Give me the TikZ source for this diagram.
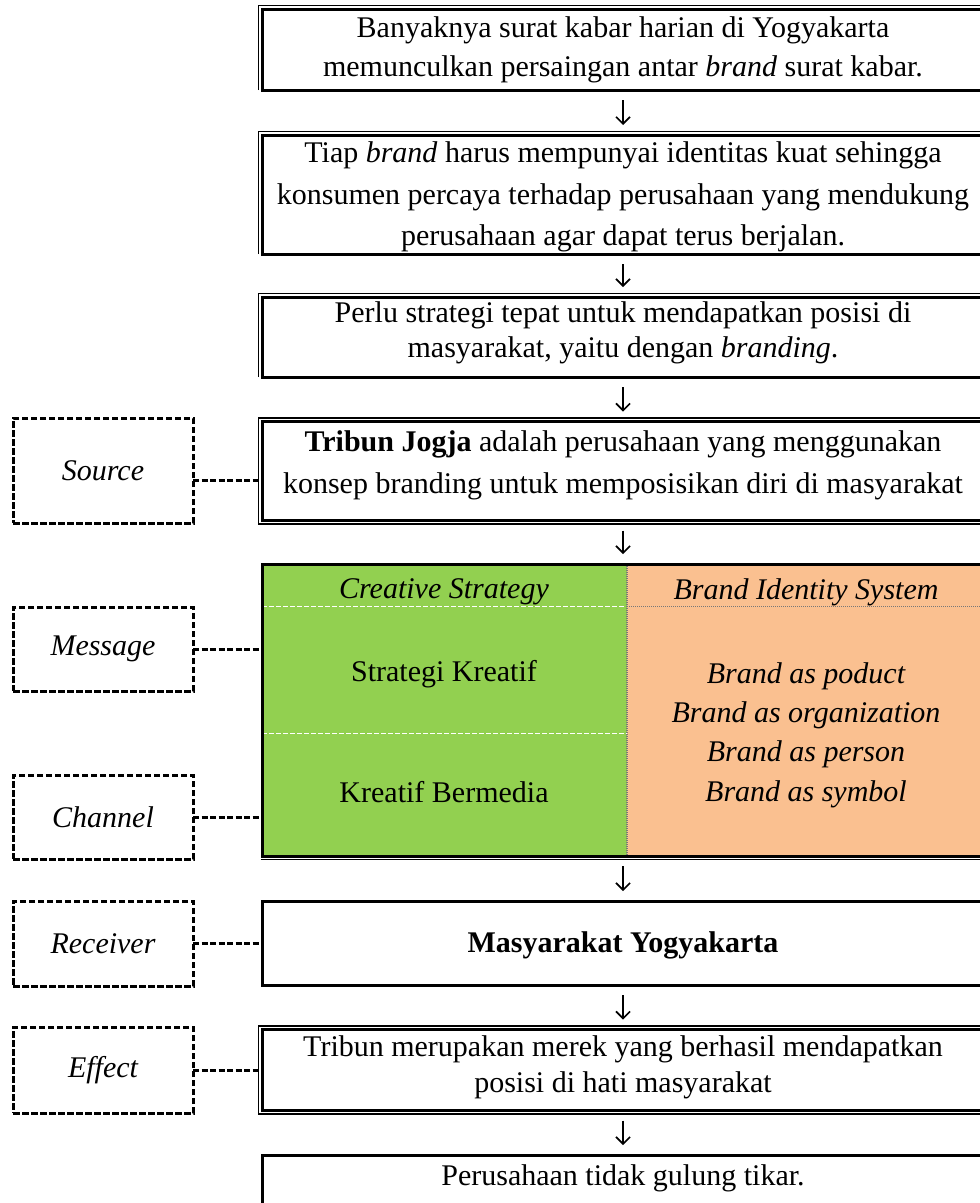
\documentclass[tikz,border=0pt]{standalone}
\usepackage{fontspec}
\setmainfont{Liberation Serif}
\usetikzlibrary{arrows.meta,calc}
\definecolor{cgreen}{RGB}{146,208,80}
\definecolor{cpeach}{RGB}{250,192,144}
\definecolor{cgrid}{RGB}{120,120,120}
\begin{document}
\begin{tikzpicture}[x=1pt,y=-1pt,
  font=\fontsize{30}{40}\selectfont,
  tbox/.style={draw, line width=3pt, outer sep=0pt, inner sep=0pt, minimum width=722pt},
  txt/.style={align=center, inner sep=0pt},
  thinframe/.style={line width=1.1pt},
  lbox/.style={draw, line width=3pt, dash pattern=on 6.5pt off 2.5pt, outer sep=0pt, inner sep=0pt,
    minimum width=180pt, font=\fontsize{30}{40}\selectfont\itshape},
  link/.style={line width=3pt, dash pattern=on 6pt off 2.5pt},
  flow/.style={line width=1.6pt, -{Straight Barb[length=7pt,width=14pt,line width=1.6pt]},
    shorten <=10pt, shorten >=10pt}
]
\useasboundingbox (0,0) rectangle (980,1203);

% Box 1
\node[tbox, minimum height=81pt] (b1) at (623,49.5) {};
\draw[thinframe] ([xshift=-3.5pt]b1.south west) -- ([shift={(-3.5pt,3.5pt)}]b1.north west) -- ([shift={(3.5pt,3.5pt)}]b1.north east);
\node[txt, font=\fontsize{30}{39}\selectfont] (t1) at (623,50) {Banyaknya surat kabar harian di Yogyakarta\\memunculkan persaingan antar \textit{brand} surat kabar.};

% Box 2
\node[tbox, minimum height=119pt] (b2) at (623,194.5) {};
\draw[thinframe] ([xshift=-3.5pt]b2.south west) -- ([shift={(-3.5pt,3.5pt)}]b2.north west) -- ([shift={(3.5pt,3.5pt)}]b2.north east);
\node[txt, font=\fontsize{30}{41.5}\selectfont] (t2) at (623,197) {Tiap \textit{brand} harus mempunyai identitas kuat sehingga\\konsumen percaya terhadap perusahaan yang mendukung\\perusahaan agar dapat terus berjalan.};

% Box 3
\node[tbox, minimum height=80pt] (b3) at (623,337) {};
\draw[thinframe] ([xshift=-3.5pt]b3.south west) -- ([shift={(-3.5pt,3.5pt)}]b3.north west) -- ([shift={(3.5pt,3.5pt)}]b3.north east);
\node[txt, font=\fontsize{30}{35}\selectfont] (t3) at (623,333) {Perlu strategi tepat untuk mendapatkan posisi di\\masyarakat, yaitu dengan \textit{branding}.};

% Box 4
\node[tbox, minimum height=99pt] (b4) at (623,471) {};
\draw[thinframe] ([shift={(-3.5pt,-3.5pt)}]b4.south west) rectangle ([shift={(3.5pt,3.5pt)}]b4.north east);
\node[txt, font=\fontsize{30}{42}\selectfont] (t4) at (623,465) {\textbf{Tribun Jogja} adalah perusahaan yang menggunakan\\konsep branding untuk memposisikan diri di masyarakat};

% Table
\fill[cgreen] (262,564) rectangle (627,856);
\fill[cpeach] (627,564) rectangle (990,856);
\draw[white, line width=0.9pt, dash pattern=on 5pt off 2pt] (262,606) -- (627,606);
\draw[white, line width=0.9pt, dash pattern=on 5pt off 2pt] (262,733) -- (627,733);
\draw[cgrid, line width=1pt, dash pattern=on 1pt off 1pt] (627,606) -- (990,606);
\draw[cgrid, line width=1.6pt, dash pattern=on 1pt off 1pt] (627,564) -- (627,856);
\node[tbox, minimum height=292pt] (tbl) at (623,710) {};
\draw[thinframe] ([shift={(-1.5pt,-3.5pt)}]tbl.south west) -- ([shift={(3.5pt,-3.5pt)}]tbl.south east);
\node[txt] (h1) at (444,592) {\itshape Creative Strategy};
\node[txt] (h2) at (806,592) {\itshape Brand Identity System};
\node[txt] (s1) at (444,674) {Strategi Kreatif};
\node[txt] (s2) at (444,792) {Kreatif Bermedia};
\node[txt, font=\fontsize{30}{39.3}\selectfont\itshape] (bl) at (806,735) {Brand as poduct\\Brand as organization\\Brand as person\\Brand as symbol};

% Receiver box
\node[tbox, minimum height=84pt] (b5) at (623,943) {};
\node[txt] (t5) at (623,945) {\textbf{Masyarakat Yogyakarta}};

% Effect box
\node[tbox, minimum height=81pt] (b6) at (623,1070) {};
\draw[thinframe] ([shift={(-3.5pt,-3.5pt)}]b6.south west) rectangle ([shift={(3.5pt,3.5pt)}]b6.north east);
\node[txt, font=\fontsize{30}{36}\selectfont] (t6) at (623,1067) {Tribun merupakan merek yang berhasil mendapatkan\\posisi di hati masyarakat};

% Last box
\node[tbox, minimum height=80pt] (b7) at (623,1195) {};
\node[txt] (t7) at (623,1178) {Perusahaan tidak gulung tikar.};

% Flow arrows
\draw[flow] (b1) -- (b2);
\draw[flow] (b2) -- (b3);
\draw[flow] (b3) -- (b4);
\draw[flow] (b4) -- (tbl);
\draw[flow] (tbl) -- (b5);
\draw[flow] (b5) -- (b6);
\draw[flow] (b6) -- (b7);

% Left labels
\node[lbox, minimum height=105pt] (src) at (103,470.5) {Source};
\node[lbox, minimum height=84pt] (msg) at (103,649) {Message};
\node[lbox, minimum height=84pt] (chn) at (103,817) {Channel};
\node[lbox, minimum height=85pt] (rcv) at (103,943.5) {Receiver};
\node[lbox, minimum height=86pt] (eff) at (103,1070) {Effect};

\draw[link] ([yshift=-9.5pt]src.east) -- ([yshift=-9.5pt]src.east -| b4.west);
\draw[link] (msg.east) -- (msg.east -| tbl.west);
\draw[link] (chn.east) -- (chn.east -| tbl.west);
\draw[link] (rcv.east) -- (rcv.east -| b5.west);
\draw[link] (eff.east) -- (eff.east -| b6.west);
\end{tikzpicture}
\end{document}
